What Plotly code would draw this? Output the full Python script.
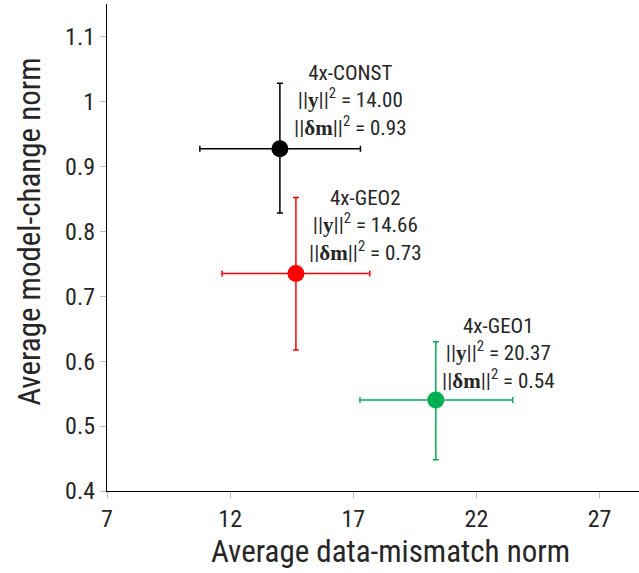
import plotly.graph_objects as go

names = ["4x-CONST", "4x-GEO2", "4x-GEO1"]
x_vals = [14.02, 14.67, 20.35]
y_vals = [0.927, 0.735, 0.540]
x_err_plus = [3.27, 3.0, 3.12]
x_err_minus = [3.25, 3.0, 3.08]
y_err_plus = [0.101, 0.117, 0.090]
y_err_minus = [0.099, 0.118, 0.092]
y_norm = ["14.00", "14.66", "20.37"]
dm_norm = ["0.93", "0.73", "0.54"]
colors = ["#000000", "#FF0000", "#00B050"]
label_x = [16.9, 17.5, 22.9]
label_y = [1.066, 0.873, 0.676]

x_ticks = [7, 12, 17, 22, 27]
y_ticks = [0.4, 0.5, 0.6, 0.7, 0.8, 0.9, 1.0, 1.1]
y_tick_text = ["0.4", "0.5", "0.6", "0.7", "0.8", "0.9", "1", "1.1"]
x_title = "Average data-mismatch norm"
y_title = "Average model-change norm"

FONT = "Liberation Sans Narrow, Arial Narrow, Roboto Condensed, Liberation Sans, sans-serif"
SERIF = "Liberation Serif, DejaVu Serif, serif"
TXT = "#262626"

fig = go.Figure()
for i in range(len(names)):
    fig.add_trace(go.Scatter(
        x=[x_vals[i]], y=[y_vals[i]], mode="markers",
        marker=dict(size=17, color=colors[i]),
        error_x=dict(type="data", symmetric=False, array=[x_err_plus[i]], arrayminus=[x_err_minus[i]],
                     color=colors[i], thickness=1.5, width=3),
        error_y=dict(type="data", symmetric=False, array=[y_err_plus[i]], arrayminus=[y_err_minus[i]],
                     color=colors[i], thickness=1.5, width=3),
        showlegend=False, name=names[i],
    ))
    txt = (f"{names[i]}<br>"
           f"||<span style='font-family:{SERIF}'><b>y</b></span>||<sup>2</sup> = {y_norm[i]}<br>"
           f"||<span style='font-family:{SERIF}'><b>δm</b></span>||<sup>2</sup> = {dm_norm[i]}")
    fig.add_annotation(x=label_x[i], y=label_y[i], xref="x", yref="y", text=txt,
                       showarrow=False, xanchor="center", yanchor="top", align="center",
                       font=dict(family=FONT, size=21, color=TXT))

fig.add_annotation(x=0.532, y=-0.125, xref="paper", yref="paper", text=x_title,
                   showarrow=False, xanchor="center", yanchor="middle",
                   font=dict(family=FONT, size=31, color=TXT))
fig.add_annotation(x=-0.145, y=0.532, xref="paper", yref="paper", text=y_title, textangle=-90,
                   showarrow=False, xanchor="center", yanchor="middle",
                   font=dict(family=FONT, size=31, color=TXT))

fig.update_layout(
    width=639, height=573,
    margin=dict(l=107, r=0, t=4, b=82),
    plot_bgcolor="white", paper_bgcolor="white",
    font=dict(family=FONT, color=TXT),
    xaxis=dict(range=[7, 28.6], tickvals=x_ticks, ticks="outside", ticklen=6, tickcolor="#bbbbbb",
               showgrid=False, zeroline=False, showline=True, linecolor="black", linewidth=1.2,
               tickfont=dict(size=24, family=FONT, color=TXT)),
    yaxis=dict(range=[0.4, 1.15], tickvals=y_ticks, ticktext=y_tick_text, ticks="outside", ticklen=6,
               tickcolor="#bbbbbb", showgrid=False, zeroline=False, showline=True, linecolor="black",
               linewidth=1.2, tickfont=dict(size=24, family=FONT, color=TXT)),
)

fig.write_html("out.html")
